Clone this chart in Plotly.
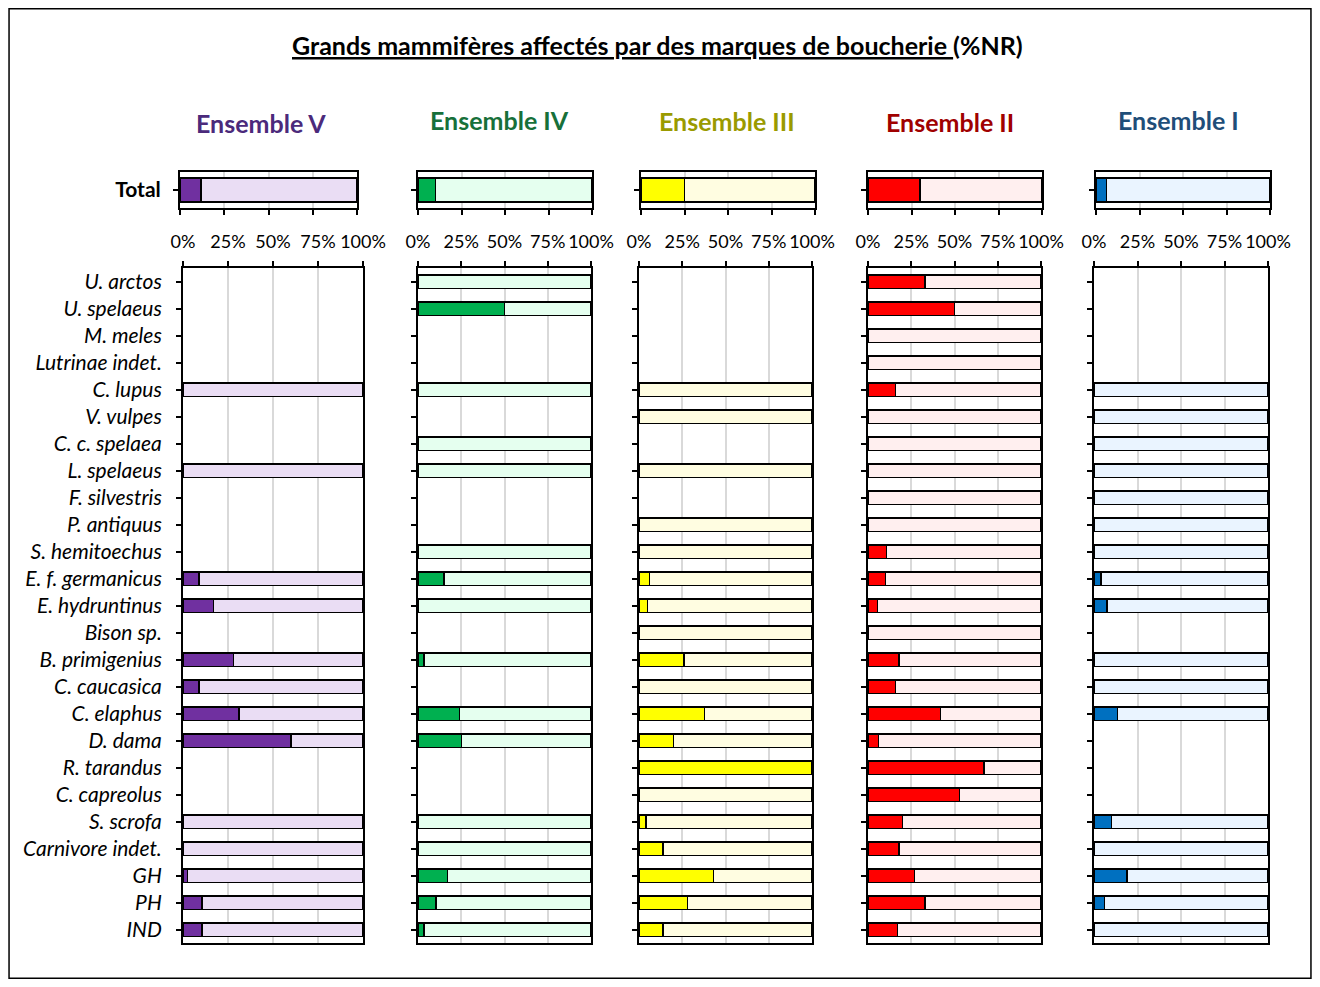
import plotly.graph_objects as go

# the page body keeps an 8px margin, so the figure is drawn 8px in from the corner
OFF = 8
FW, FH = 1304, 971

species = ["U. arctos", "U. spelaeus", "M. meles", "Lutrinae indet.", "C. lupus",
           "V. vulpes", "C. c. spelaea", "L. spelaeus", "F. silvestris", "P. antiquus",
           "S. hemitoechus", "E. f. germanicus", "E. hydruntinus", "Bison sp.",
           "B. primigenius", "C. caucasica", "C. elaphus", "D. dama", "R. tarandus",
           "C. capreolus", "S. scrofa", "Carnivore indet.", "GH", "PH", "IND"]

ensembles = ["Ensemble V", "Ensemble IV", "Ensemble III", "Ensemble II", "Ensemble I"]

# % NR with butchery marks (None = taxon absent)
ens_V = [None, None, None, None, 0, None, None, 0, None, None, None, 9, 17, None,
         28, 9, 31, 60, None, None, 0, 0, 2.5, 10.5, 10.5]
ens_IV = [0, 50, None, None, 0, None, 0, 0, None, None, 0, 15, 0, None,
          3.5, None, 24, 25, None, None, 0, 0, 17, 10.5, 3.5]
ens_III = [None, None, None, None, 0, 0, None, 0, None, 0, 0, 6, 5, 0,
           26, 0, 38, 20, 100, 0, 4, 14, 43, 28, 14]
ens_II = [33, 50, 0, 0, 16, 0, 0, 0, 0, 0, 10.6, 10, 5.6, 0,
          18, 16, 42, 6, 67, 53, 20, 18, 27, 33, 17]
ens_I = [None, None, None, None, 0, 0, 0, 0, 0, 0, 0, 4, 7.5, None,
         0, 0, 13.5, None, None, None, 10, 0, 19, 6, 0]
totals = [12, 10, 25, 30, 6]

series = [ens_V, ens_IV, ens_III, ens_II, ens_I]
dark = ["#7030A0", "#00B050", "#FFFF00", "#FF0000", "#0070C0"]
light = ["#EADDF4", "#E5FFEF", "#FFFDE1", "#FFEFEF", "#EAF4FF"]
title_col = ["#4B2A7B", "#17703A", "#9A9A00", "#A00000", "#1F4E79"]
title_x = [261, 499, 727, 950, 1178]
title_y = [123, 120, 121, 122, 120]

tot_dom = [(180, 357), (418, 592), (641, 815), (868, 1042), (1096, 1270)]
sp_dom = [(183, 363), (418, 591), (639, 812), (868, 1041), (1094, 1268)]

FONT = "Lato, 'Open Sans', sans-serif"


def fx(p):
    return (p - OFF) / FW


def fy(p):
    return 1 - (p - OFF) / FH


def px_x(a, b):
    return [fx(a), fx(b)]


def px_y(top, bot):
    return [fy(bot), fy(top)]


fig = go.Figure()
layout = {}
line = dict(color="black", width=1.5)

for i in range(5):
    ta = 2 * i + 1
    sa = 2 * i + 2
    vals = series[i]
    rest = [None if v is None else 100 - v for v in vals]

    # total bar
    fig.add_trace(go.Bar(y=["Total"], x=[totals[i]], orientation="h",
                         marker=dict(color=dark[i], line=line), width=0.67,
                         xaxis=f"x{ta}", yaxis=f"y{ta}", showlegend=False))
    fig.add_trace(go.Bar(y=["Total"], x=[100 - totals[i]], orientation="h",
                         marker=dict(color=light[i], line=line), width=0.67,
                         xaxis=f"x{ta}", yaxis=f"y{ta}", showlegend=False))
    # species bars
    fig.add_trace(go.Bar(y=species, x=vals, orientation="h",
                         marker=dict(color=dark[i], line=line), width=0.5,
                         xaxis=f"x{sa}", yaxis=f"y{sa}", showlegend=False))
    fig.add_trace(go.Bar(y=species, x=rest, orientation="h",
                         marker=dict(color=light[i], line=line), width=0.5,
                         xaxis=f"x{sa}", yaxis=f"y{sa}", showlegend=False))

    xcommon = dict(range=[0, 100], showline=True, mirror=True, linecolor="black",
                   linewidth=2, showgrid=True, gridcolor="#D9D9D9", gridwidth=2,
                   tickvals=[0, 25, 50, 75, 100], ticks="outside", ticklen=5,
                   tickwidth=2, tickcolor="black", zeroline=False, fixedrange=True,
                   automargin=False)
    layout[f"xaxis{ta}"] = dict(xcommon, domain=px_x(*tot_dom[i]), anchor=f"y{ta}",
                                side="bottom", showticklabels=False)
    layout[f"yaxis{ta}"] = dict(domain=px_y(172, 208), anchor=f"x{ta}",
                                showline=True, mirror=True, linecolor="black",
                                linewidth=2, ticks="outside", ticklen=5, tickwidth=2,
                                tickcolor="black", showticklabels=(i == 0),
                                tickfont=dict(family=FONT, size=21, color="black",
                                              weight="bold"),
                                ticklabelstandoff=8, fixedrange=True,
                                automargin=False)
    layout[f"xaxis{sa}"] = dict(xcommon, domain=px_x(*sp_dom[i]), anchor=f"y{sa}",
                                side="top", showticklabels=True,
                                ticktext=["0%", "25%", "50%", "75%", "100%"],
                                tickfont=dict(family=FONT, size=18, color="black"),
                                ticklabelstandoff=6)
    layout[f"yaxis{sa}"] = dict(domain=px_y(268, 943), anchor=f"x{sa}",
                                categoryorder="array", categoryarray=species,
                                autorange="reversed", showline=True, mirror=True,
                                linecolor="black", linewidth=2, ticks="outside",
                                ticklen=5, tickwidth=2, tickcolor="black",
                                showticklabels=(i == 0),
                                tickfont=dict(family=FONT, size=21, color="black",
                                              style="italic"),
                                ticklabelstandoff=10, fixedrange=True,
                                automargin=False)

annotations = [dict(text="<b><u>Grands mammifères affectés par des marques de boucherie </u>(%NR)</b>",
                    x=fx(657), y=fy(45), xref="paper", yref="paper",
                    xanchor="center", yanchor="middle",
                    showarrow=False, font=dict(family=FONT, size=25, color="black"))]
for i in range(5):
    annotations.append(dict(text=f"<b>{ensembles[i]}</b>", x=fx(title_x[i]),
                            y=fy(title_y[i]), xref="paper", yref="paper",
                            xanchor="center", yanchor="middle", showarrow=False,
                            font=dict(family=FONT, size=25, color=title_col[i])))

fig.update_layout(
    width=FW, height=FH, margin=dict(l=0, r=0, t=0, b=0, autoexpand=False),
    barmode="stack", bargap=0.5,
    paper_bgcolor="white", plot_bgcolor="white",
    annotations=annotations,
    shapes=[dict(type="rect", xref="paper", yref="paper", x0=0.0008, x1=0.9992,
                 y0=0.0008, y1=0.9992, line=dict(color="black", width=1.5))],
    **layout,
)

fig.write_html("out.html")
